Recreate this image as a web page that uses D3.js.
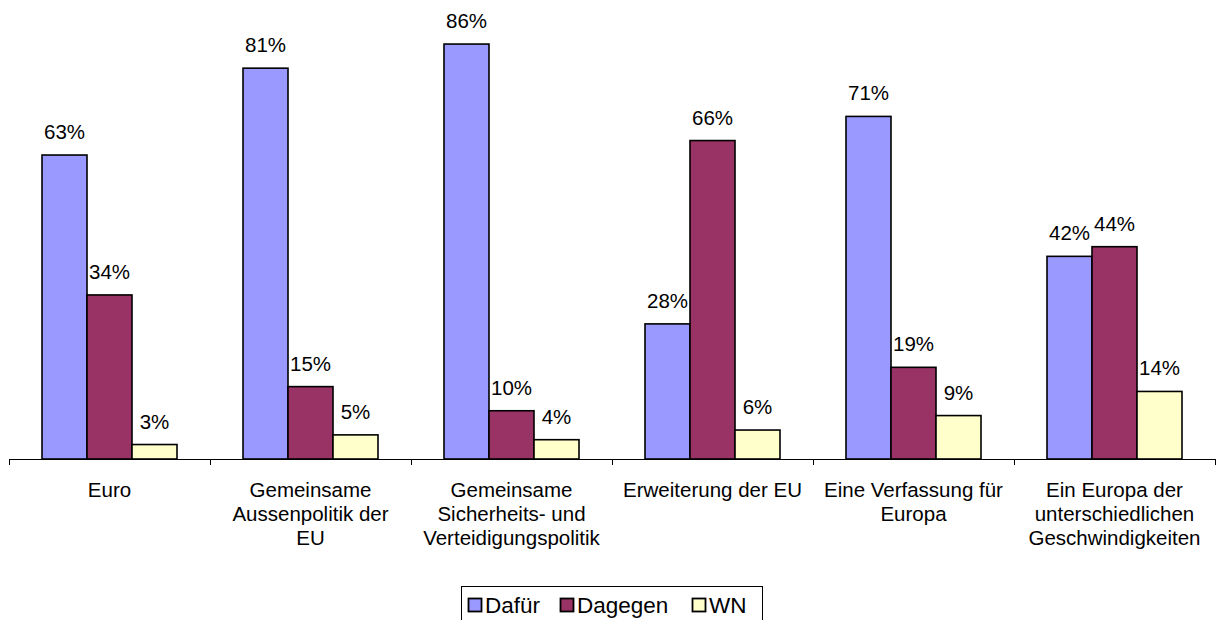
<!DOCTYPE html>
<html>
<head>
<meta charset="utf-8">
<script src="https://cdn.jsdelivr.net/npm/d3@7"></script>
<style>
  html, body { margin: 0; padding: 0; background: #fff; }
  svg { display: block; font-family: "Liberation Sans", Arial, sans-serif; }
</style>
</head>
<body>
<svg id="chart" width="1217" height="620"></svg>
<script>
// Categories (multi-line labels) and series values in percent
const categories = [
  ["Euro"],
  ["Gemeinsame", "Aussenpolitik der", "EU"],
  ["Gemeinsame", "Sicherheits- und", "Verteidigungspolitik"],
  ["Erweiterung der EU"],
  ["Eine Verfassung für", "Europa"],
  ["Ein Europa der", "unterschiedlichen", "Geschwindigkeiten"]
];
const seriesNames = ["Dafür", "Dagegen", "WN"];
const dafuer  = [63, 81, 86, 28, 71, 42];
const dagegen = [34, 15, 10, 66, 19, 44];
const wn      = [3, 5, 4, 6, 9, 14];
const seriesColors = ["#9999FF", "#993366", "#FFFFCC"];

const seriesValues = [dafuer, dagegen, wn];
const catKeys = categories.map((c, i) => i);

const svg = d3.select("#chart");

const baseY = 459;
const x0 = d3.scaleBand().domain(catKeys).range([9, 1215]).paddingInner(0).paddingOuter(0);
// three adjacent bars centred in each category slot
const groupPad = 33;
const x1 = d3.scaleBand().domain(seriesNames).range([groupPad, x0.bandwidth() - groupPad]).padding(0);
const y = d3.scaleLinear().domain([0, 100]).range([baseY, baseY - 482.5]);

// Bars
const groups = svg.selectAll("g.cat")
  .data(catKeys)
  .join("g")
  .attr("class", "cat")
  .attr("transform", d => `translate(${x0(d)},0)`);

groups.selectAll("rect")
  .data(i => seriesNames.map((s, k) => ({ s, k, v: seriesValues[k][i] })))
  .join("rect")
  .attr("x", d => x1(d.s))
  .attr("y", d => y(d.v))
  .attr("width", x1.bandwidth())
  .attr("height", d => baseY - y(d.v))
  .attr("fill", d => seriesColors[d.k])
  .attr("stroke", "#000")
  .attr("stroke-width", 1.6);

// Value labels
groups.selectAll("text.val")
  .data(i => seriesNames.map((s, k) => ({ s, k, v: seriesValues[k][i] })))
  .join("text")
  .attr("class", "val")
  .attr("x", d => x1(d.s) + x1.bandwidth() / 2)
  .attr("y", d => y(d.v) - 16)
  .attr("text-anchor", "middle")
  .attr("font-size", 20.5)
  .attr("fill", "#000")
  .text(d => d.v + "%");

// Category axis
const axis = svg.append("g").attr("transform", `translate(0,${baseY})`);
axis.append("line")
  .attr("x1", 9).attr("x2", 1215)
  .attr("y1", 0.5).attr("y2", 0.5)
  .attr("stroke", "#000").attr("stroke-width", 1);
const boundaries = catKeys.map(k => x0(k)).concat([x0(catKeys[catKeys.length - 1]) + x0.bandwidth()]);
axis.selectAll("line.tick")
  .data(boundaries)
  .join("line")
  .attr("class", "tick")
  .attr("x1", d => Math.round(d) + 0.5).attr("x2", d => Math.round(d) + 0.5)
  .attr("y1", 0).attr("y2", 6)
  .attr("stroke", "#000").attr("stroke-width", 1);

const catLabels = svg.append("g");
catKeys.forEach(k => {
  const t = catLabels.append("text")
    .attr("x", x0(k) + x0.bandwidth() / 2)
    .attr("y", 497)
    .attr("text-anchor", "middle")
    .attr("font-size", 20.5)
    .attr("fill", "#000");
  categories[k].forEach((line, j) => {
    t.append("tspan")
      .attr("x", x0(k) + x0.bandwidth() / 2)
      .attr("dy", j === 0 ? 0 : 24)
      .text(line);
  });
});

// Legend
const legend = svg.append("g");
legend.append("rect")
  .attr("x", 461.5).attr("y", 586.5)
  .attr("width", 301).attr("height", 40)
  .attr("fill", "#fff").attr("stroke", "#000").attr("stroke-width", 1);
const legendX = [468, 560, 692];
seriesNames.forEach((s, k) => {
  legend.append("rect")
    .attr("x", legendX[k] + 0.5).attr("y", 598.5)
    .attr("width", 13).attr("height", 13)
    .attr("fill", seriesColors[k])
    .attr("stroke", "#000").attr("stroke-width", 1.8);
  legend.append("text")
    .attr("x", legendX[k] + 17).attr("y", 612.5)
    .attr("font-size", 22.5)
    .attr("fill", "#000")
    .text(s);
});
</script>
</body>
</html>
